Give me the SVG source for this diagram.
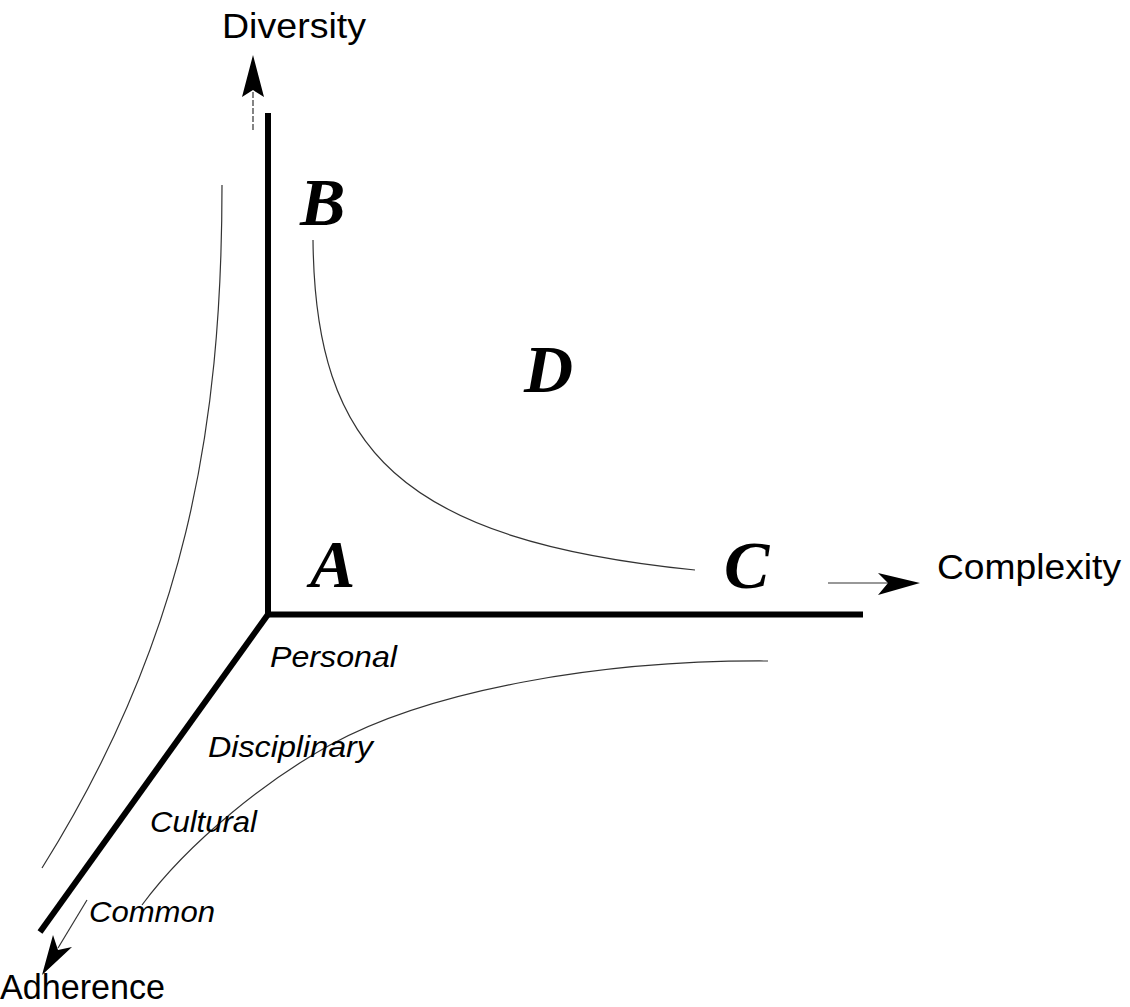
<svg xmlns="http://www.w3.org/2000/svg" width="1130" height="1007" viewBox="0 0 1130 1007">
<style>
.axis{stroke:#000;stroke-width:6;fill:none;stroke-linecap:butt}
.thin{stroke:#333;stroke-width:1.2;fill:none}
.ax{font-family:"Liberation Sans",Arial,sans-serif;font-size:35px;fill:#000}
.lvl{font-family:"Liberation Sans",Arial,sans-serif;font-size:30px;font-style:italic;fill:#000}
.big{font-family:"Liberation Serif","Times New Roman",serif;font-size:68px;font-style:italic;font-weight:bold;fill:#000}
.head{fill:#000;stroke:none}
</style>
<rect width="1130" height="1007" fill="#fff"/>
<g id="connectors">
<line class="axis" x1="268" y1="113" x2="268" y2="615"/>
<line class="axis" x1="265" y1="614.5" x2="863" y2="614.5"/>
<line class="axis" x1="269" y1="613" x2="40" y2="932"/>
<line class="thin" x1="253" y1="130" x2="253" y2="90" stroke-dasharray="6,2"/>
<polygon class="head" points="253,55 264,97 253,90 242,97"/>
<line class="thin" x1="828" y1="583" x2="888" y2="583"/>
<polygon class="head" points="920,583 878,595 888,583 878,573"/>
<line class="thin" x1="87" y1="900" x2="58" y2="948"/>
<polygon class="head" points="42,975 53,935 58,950 72,947"/>
<path class="thin" d="M222,185 C222,430 185,640 42,868"/>
<path class="thin" d="M313,240 C315,450 400,540 695,570"/>
<path class="thin" d="M768,661 C600,660 430,690 330,745 C270,778 190,840 142,905"/>
</g>
<g id="diversity"><text class="ax" x="222" y="38" textLength="144" lengthAdjust="spacingAndGlyphs">Diversity</text></g>
<g id="complexity"><text class="ax" x="937" y="579" textLength="184" lengthAdjust="spacingAndGlyphs">Complexity</text></g>
<g id="adherence"><text class="ax" x="0" y="999" textLength="165" lengthAdjust="spacingAndGlyphs">Adherence</text></g>
<g id="personal"><text class="lvl" x="270" y="667" textLength="127" lengthAdjust="spacingAndGlyphs">Personal</text></g>
<g id="disciplinary"><text class="lvl" x="208" y="757" textLength="165" lengthAdjust="spacingAndGlyphs">Disciplinary</text></g>
<g id="cultural"><text class="lvl" x="150" y="832" textLength="107" lengthAdjust="spacingAndGlyphs">Cultural</text></g>
<g id="common"><text class="lvl" x="89" y="922" textLength="126" lengthAdjust="spacingAndGlyphs">Common</text></g>
<g id="A"><text class="big" x="310" y="587">A</text></g>
<g id="B"><text class="big" x="300" y="225">B</text></g>
<g id="C"><text class="big" x="724" y="588">C</text></g>
<g id="D"><text class="big" x="524" y="392">D</text></g>
</svg>
